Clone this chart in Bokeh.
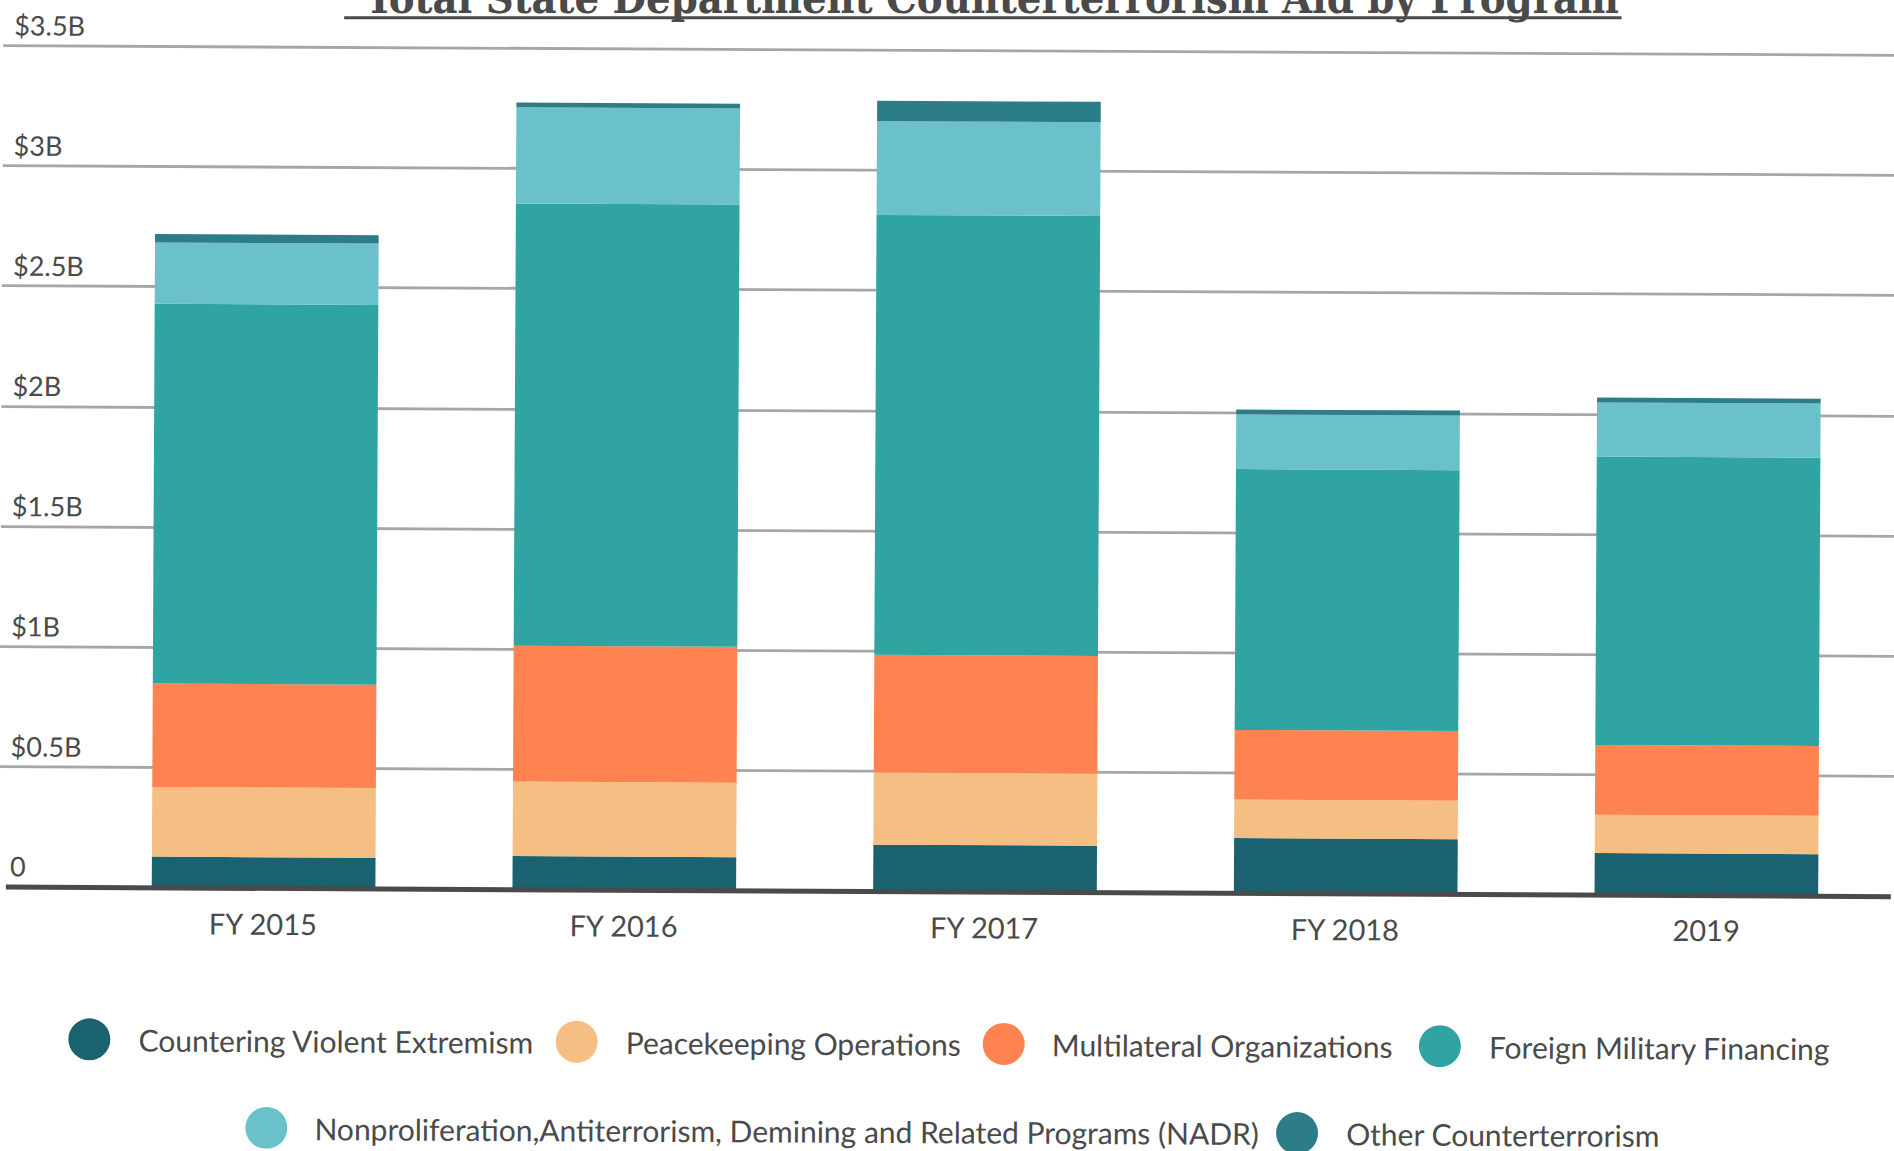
import numpy as np
from bokeh.plotting import figure
from bokeh.models import Range1d, FixedTicker, ColumnDataSource, InlineStyleSheet
from bokeh.core.properties import value
from bokeh.embed import file_html
from bokeh.resources import INLINE

# ---------------- data ----------------
years = ["FY 2015", "FY 2016", "FY 2017", "FY 2018", "2019"]
programs = [
    "Countering Violent Extremism",
    "Peacekeeping Operations",
    "Multilateral Organizations",
    "Foreign Military Financing",
    "Nonproliferation,Antiterrorism, Demining and Related Programs (NADR)",
    "Other Counterterrorism",
]
cve = [0.13, 0.14, 0.195, 0.23, 0.175]
pko = [0.29, 0.31, 0.30, 0.16, 0.16]
mo = [0.43, 0.565, 0.49, 0.29, 0.29]
fmf = [1.58, 1.84, 1.83, 1.085, 1.20]
nadr = [0.255, 0.40, 0.39, 0.228, 0.225]
other = [0.035, 0.02, 0.085, 0.02, 0.02]
colors = ["#1b6270", "#f5be83", "#ff8350", "#30a3a3", "#6bc1ca", "#2c7d87"]
y_ticks = [0, 0.5, 1, 1.5, 2, 2.5, 3, 3.5]
y_labels = ["0", "$0.5B", "$1B", "$1.5B", "$2B", "$2.5B", "$3B", "$3.5B"]
title = "Total State Department Counterterrorism Aid by Program"

# ---------------- layout ----------------
W, H = 1894, 1151
PX_PER_CAT = 359.75
PX_PER_B = 238.5
ZERO_PY = 892.4
X0 = -264 / PX_PER_CAT
TILT = 0.29  # degrees, the whole picture is slightly tilted clockwise
SLOPE = np.tan(np.radians(TILT))
CX = W / 2

def dx(px):
    return X0 + px / PX_PER_CAT

def dy(py):
    return (ZERO_PY - py) / PX_PER_B

TXT = "#4a4a4a"
FONT = value("Lato")

css = InlineStyleSheet(css=":host { position: relative; top: -8px; transform: rotate(%.2fdeg); }" % TILT)

p = figure(width=W, height=H, output_backend="svg", toolbar_location=None,
           x_range=Range1d(X0, X0 + W / PX_PER_CAT),
           y_range=Range1d(dy(H), dy(0)),
           min_border=0, min_border_left=0, min_border_right=0,
           min_border_top=0, min_border_bottom=0,
           stylesheets=[css])
p.outline_line_color = None
p.background_fill_color = "white"
p.xaxis.visible = False
p.yaxis.visible = False
p.xgrid.visible = False
p.ygrid.ticker = FixedTicker(ticks=y_ticks[1:])
p.ygrid.grid_line_color = "#a6a6a6"
p.ygrid.grid_line_width = 2.8

keys = ["cve", "pko", "mo", "fmf", "nadr", "other"]
src = ColumnDataSource(dict(x=list(range(len(years))), cve=cve, pko=pko, mo=mo,
                            fmf=fmf, nadr=nadr, other=other))
p.vbar_stack(keys, x="x", width=0.62, color=colors, source=src, line_color=None)

# baseline
p.segment(x0=[dx(7)], y0=[0], x1=[dx(1887)], y1=[0], line_width=5, line_color=TXT)

# y tick labels
p.text(x=[dx(11)] * len(y_ticks), y=y_ticks, text=y_labels, y_offset=-21,
       text_align="left", text_baseline="middle", text_font=FONT,
       text_font_size="27px", text_color=TXT)

# x labels
p.text(x=list(range(len(years))), y=[dy(927)] * len(years), text=years,
       text_align="center", text_baseline="middle", text_font=FONT,
       text_font_size="29px", text_color=TXT)

# legend
leg_cx = [91, 577, 1003, 1438, 268, 1296]
leg_tx = [140, 626, 1051, 1487, 316, 1345]
leg_py = [1043] * 4 + [1130] * 2
p.scatter(x=[dx(v) for v in leg_cx], y=[dy(v) for v in leg_py], size=42,
          color=colors, line_color=None)
p.text(x=[dx(v) for v in leg_tx], y=[dy(v) for v in leg_py], text=programs,
       text_align="left", text_baseline="middle", text_font=FONT,
       text_font_size="30px", text_color=TXT)

# title (clipped at top, as in the reference; it is not tilted there)
p.text(x=[dx(986)], y=[dy(5)], text=[title], text_align="center",
       text_baseline="middle", text_font=value("DejaVu Serif Condensed"),
       text_font_style="bold", text_font_size="43px", text_color=TXT,
       angle=TILT, angle_units="deg")
ul_y = 25
p.segment(x0=[dx(340)], y0=[dy(ul_y + (CX - 340) * SLOPE)],
          x1=[dx(1614)], y1=[dy(ul_y - (1614 - CX) * SLOPE)],
          line_width=3, line_color=TXT)

open("out.html", "w").write(file_html(p, INLINE))
